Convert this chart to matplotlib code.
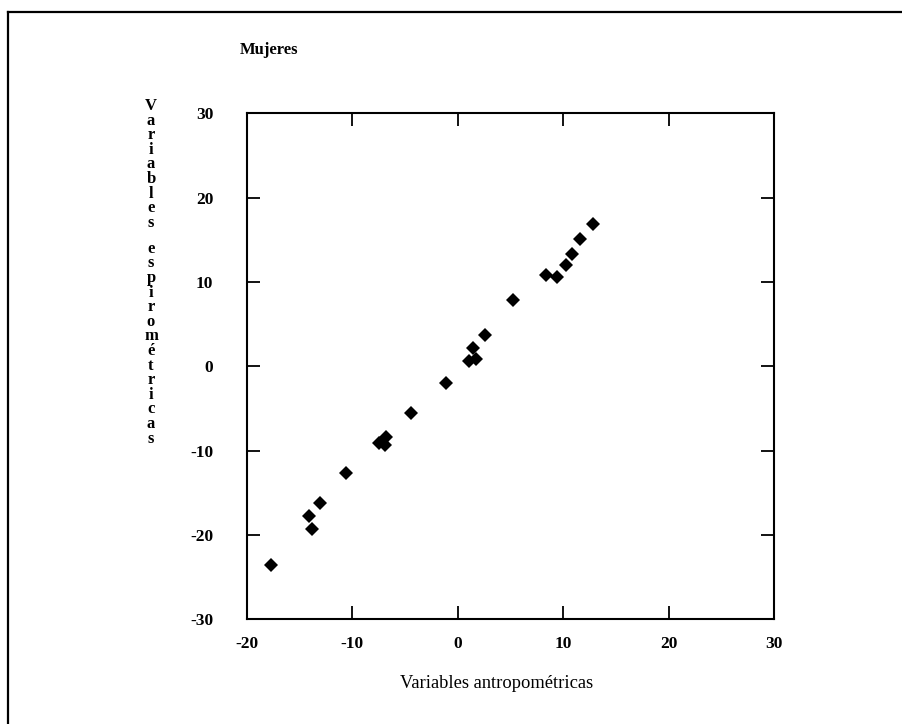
import matplotlib
matplotlib.use("Agg")
import matplotlib.pyplot as plt
from matplotlib.lines import Line2D

# Data
x_vals = [12.81, 11.61, 10.88, 10.31, 8.41, 9.45, 5.22, 2.62, 1.43, 1.71, 1.11,
          -1.07, -4.39, -6.76, -7.45, -6.89, -10.56, -13.08, -14.12, -13.81, -17.70]
y_vals = [16.91, 15.10, 13.35, 12.00, 10.80, 10.63, 7.86, 3.71, 2.13, 0.90, 0.66,
          -2.02, -5.54, -8.42, -9.13, -9.33, -12.65, -16.25, -17.79, -19.33, -23.56]
x_ticks = [-20, -10, 0, 10, 20, 30]
y_ticks = [-30, -20, -10, 0, 10, 20, 30]
title = "Mujeres"
x_label = "Variables antropométricas"
y_label_words = ["Variables", "espirométricas"]

W, H = 903, 724
fig = plt.figure(figsize=(W / 100, H / 100), dpi=100)
serif = ["Liberation Serif", "DejaVu Serif"]

left, right, top, bottom = 246.7, 774.0, 113.3, 619.3
ax = fig.add_axes([left / W, 1 - bottom / H, (right - left) / W, (bottom - top) / H])
ax.plot(x_vals, y_vals, linestyle="none", marker="D", markersize=6.8,
        color="black", markeredgewidth=0)
ax.set_xlim(-20, 30)
ax.set_ylim(-30, 30)
ax.set_xticks(x_ticks)
ax.set_yticks(y_ticks)
ax.set_xticklabels([str(v) for v in x_ticks], fontfamily=serif, fontweight="bold", fontsize=12.5)
ax.set_yticklabels([str(v) for v in y_ticks], fontfamily=serif, fontweight="bold", fontsize=12.5)
ax.tick_params(direction="in", length=9.5, width=1.3, top=True, right=True)
ax.tick_params(axis="x", pad=12)
ax.tick_params(axis="y", pad=24)
for s in ax.spines.values():
    s.set_linewidth(1.5)

# Title
fig.text(240 / W, 1 - 50 / H, title, fontfamily=serif, fontweight="bold",
         fontsize=12, ha="left", va="center")

# X label
fig.text(497 / W, 1 - 683 / H, x_label, fontfamily=serif, fontsize=13.3,
         ha="center", va="center")

# Stacked vertical y label
ypos = 106.0
step = 14.6
for wi, word in enumerate(y_label_words):
    if wi > 0:
        ypos += 26.0 - step
    for ch in word:
        fig.text(151 / W, 1 - ypos / H, ch, fontfamily=serif, fontsize=12,
                 fontweight="bold", ha="center", va="center")
        ypos += step

# Outer frame (top and left edges)
fig.add_artist(Line2D([8 / W, 1.0], [1 - 12 / H, 1 - 12 / H],
                      transform=fig.transFigure, color="black", linewidth=1.6))
fig.add_artist(Line2D([8 / W, 8 / W], [1 - 12 / H, 0.0],
                      transform=fig.transFigure, color="black", linewidth=1.6))

fig.savefig("out.png", dpi=100, facecolor="white")
